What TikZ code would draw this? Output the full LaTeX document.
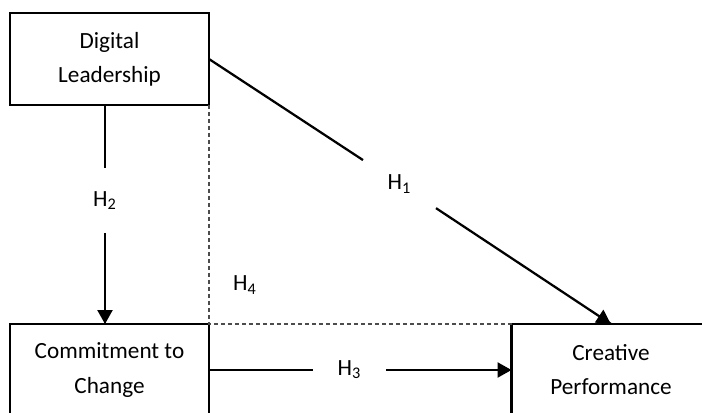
\documentclass[tikz,border=0pt]{standalone}
\usepackage{fontspec}
\setmainfont{Carlito}
\usepackage{tikz}
\usetikzlibrary{calc}
\usetikzlibrary{arrows.meta}
\usetikzlibrary{decorations.markings}
\tikzset{
  varbox/.style={draw, line width=0.045cm, minimum width=3.98cm, minimum height=1.84cm,
    align=center, inner sep=0pt, outer sep=0pt, font=\fontsize{13.2}{19.4}\selectfont},
  hyplabel/.style={inner sep=0pt, outer sep=0pt, font=\fontsize{13.2}{19.4}\selectfont},
  hypline/.style={line width=0.045cm},
  hyparrow/.style={line width=0.045cm, postaction={decorate, decoration={
    markings,
    mark=at position 1 with {\arrow{Triangle[length=0.28cm,width=0.3cm]}}}}},
  guideline/.style={black!70, line width=0.025cm, dash pattern=on 0.08cm off 0.06cm},
}

\begin{document}
\begin{tikzpicture}[x=0.02cm, y=-0.02cm]

%%%%%%%%%%%%%%%%%%%%%%%%%%%%%%%%%%%%%%%%%%%%%%%%%%%%%%%%%%%%%% Setup
\coordinate (C) at (0, 0);
% same frame as the original picture
\useasboundingbox ($(C)$) rectangle ($(C)+(702,412)$);
\clip ($(C)$) rectangle ($(C)+(702,412)$);

%%%%%%%%%%%%%%%%%%%%%%%%%%%%%%%%%%%%%%%%%%%%%%%%%%%%%%%%%%%%%% Variables
\node[varbox] (dl) at ($(C)+(109.5,59)$) {Digital\\Leadership};
\node[varbox] (ctc) at ($(C)+(109.5,370)$) {Commitment to\\Change};
\node[varbox] (cp) at ($(C)+(611,370)$) {Creative\\Performance};

%%%%%%%%%%%%%%%%%%%%%%%%%%%%%%%%%%%%%%%%%%%%%%%%%%%%%%%%%%%%%% Hypotheses
\node[hyplabel, minimum width=1.46cm, minimum height=1.0cm] (h1) at ($(C)+(399.5,184)$) {H\textsubscript{1}};
\node[hyplabel, minimum width=0.8cm, minimum height=1.3cm] (h2) at ($(C)+(105,200.5)$) {\raisebox{0.06cm}{H\textsubscript{2}}};
\node[hyplabel, minimum width=1.46cm, minimum height=0.8cm] (h3) at ($(C)+(349.5,370)$) {\raisebox{0.08cm}{H\textsubscript{3}}};
\node[hyplabel] (h4) at ($(C)+(245,285)$) {H\textsubscript{4}};

\draw[hypline] (dl.east) -- (h1);
\draw[hyparrow] (h1) -- (cp.north);

\draw[hypline] (dl.south -| h2) -- (h2);
\draw[hyparrow] (h2) -- (ctc.north -| h2);

\draw[hypline] (ctc.east) -- (h3);
\draw[hyparrow] (h3) -- (cp.west);

% mediation guide
\draw[guideline] (dl.south east) -- (ctc.north east) -- (cp.north west);

\end{tikzpicture}
\end{document}
